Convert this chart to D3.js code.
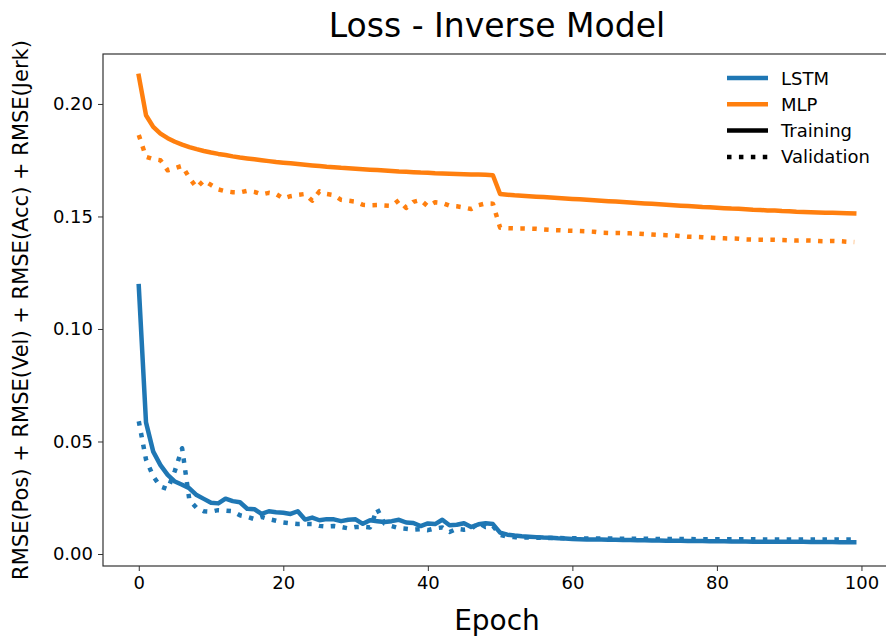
<!DOCTYPE html>
<html><head><meta charset="utf-8">
<script src="https://cdn.jsdelivr.net/npm/d3@7"></script>
<style>
html,body{margin:0;padding:0;background:#fff;}
svg{display:block;font-family:"DejaVu Sans",sans-serif;}
</style></head>
<body><svg id="chart" width="886" height="639"></svg>
<script>
const epochs = d3.range(0, 100);
const xTicks = [0, 20, 40, 60, 80, 100];
const yTicks = [0.00, 0.05, 0.10, 0.15, 0.20];
const seriesNames = ["LSTM", "MLP"];
const styleNames = ["Training", "Validation"];

const lstmTrain = [0.1190,0.0585,0.0455,0.0395,0.0352,0.0322,0.0308,0.0292,0.0262,0.0245,
0.0228,0.0225,0.0246,0.0235,0.0230,0.0201,0.0199,0.0178,0.0190,0.0186,
0.0183,0.0178,0.0190,0.0153,0.0162,0.0150,0.0155,0.0154,0.0146,0.0152,
0.0154,0.0134,0.0150,0.0146,0.0142,0.0146,0.0152,0.0140,0.0138,0.0124,
0.0136,0.0133,0.0152,0.0128,0.0130,0.0137,0.0120,0.0132,0.0137,0.0133,
0.0095,0.0086,0.0082,0.0079,0.0077,0.0075,0.0073,0.0072,0.0070,0.0069,
0.0067,0.0066,0.0065,0.0065,0.0064,0.0063,0.0063,0.0062,0.0062,0.0061,
0.0061,0.0060,0.0060,0.0059,0.0059,0.0059,0.0058,0.0058,0.0058,0.0057,
0.0057,0.0057,0.0056,0.0056,0.0056,0.0055,0.0055,0.0055,0.0055,0.0054,
0.0054,0.0054,0.0054,0.0053,0.0053,0.0053,0.0053,0.0052,0.0052,0.0052];

const lstmVal = [0.0590,0.0420,0.0345,0.0300,0.0288,0.0370,0.0470,0.0240,0.0205,0.0190,
0.0188,0.0195,0.0193,0.0190,0.0172,0.0165,0.0155,0.0165,0.0155,0.0148,
0.0140,0.0136,0.0133,0.0134,0.0133,0.0125,0.0122,0.0124,0.0120,0.0114,
0.0120,0.0121,0.0118,0.0200,0.0135,0.0124,0.0115,0.0112,0.0108,0.0110,
0.0106,0.0114,0.0118,0.0098,0.0112,0.0108,0.0112,0.0138,0.0120,0.0125,
0.0085,0.0078,0.0075,0.0074,0.0073,0.0072,0.0072,0.0071,0.0071,0.0070,
0.0070,0.0070,0.0069,0.0069,0.0069,0.0069,0.0068,0.0068,0.0068,0.0068,
0.0068,0.0067,0.0067,0.0067,0.0067,0.0067,0.0067,0.0066,0.0066,0.0066,
0.0066,0.0066,0.0066,0.0066,0.0066,0.0066,0.0065,0.0065,0.0065,0.0065,
0.0065,0.0065,0.0065,0.0065,0.0065,0.0065,0.0065,0.0065,0.0065,0.0065];

const mlpTrain = [0.2125,0.1950,0.1898,0.1868,0.1848,0.1832,0.1819,0.1808,0.1799,0.1791,
0.1784,0.1778,0.1773,0.1767,0.1762,0.1758,0.1754,0.1750,0.1746,0.1742,
0.1739,0.1736,0.1733,0.1730,0.1727,0.1724,0.1721,0.1719,0.1716,0.1714,
0.1712,0.1710,0.1708,0.1706,0.1704,0.1702,0.1700,0.1699,0.1697,0.1695,
0.1694,0.1692,0.1691,0.1690,0.1689,0.1688,0.1687,0.1686,0.1685,0.1683,
0.1600,0.1597,0.1594,0.1592,0.1590,0.1588,0.1586,0.1584,0.1582,0.1580,
0.1578,0.1576,0.1574,0.1572,0.1570,0.1568,0.1566,0.1564,0.1562,0.1560,
0.1558,0.1556,0.1554,0.1552,0.1550,0.1548,0.1546,0.1544,0.1542,0.1541,
0.1539,0.1537,0.1535,0.1534,0.1532,0.1530,0.1529,0.1527,0.1526,0.1524,
0.1523,0.1521,0.1520,0.1519,0.1518,0.1517,0.1516,0.1515,0.1514,0.1513];

const mlpVal = [0.1862,0.1765,0.1755,0.1750,0.1705,0.1715,0.1725,0.1672,0.1628,0.1660,
0.1640,0.1620,0.1612,0.1608,0.1607,0.1614,0.1609,0.1598,0.1605,0.1600,
0.1580,0.1590,0.1596,0.1600,0.1570,0.1612,0.1600,0.1595,0.1574,0.1570,
0.1566,0.1552,0.1550,0.1551,0.1549,0.1547,0.1572,0.1538,0.1565,0.1573,
0.1545,0.1563,0.1560,0.1548,0.1545,0.1540,0.1533,0.1550,0.1558,0.1557,
0.1450,0.1448,0.1447,0.1447,0.1446,0.1445,0.1442,0.1440,0.1439,0.1437,
0.1436,0.1435,0.1434,0.1432,0.1428,0.1427,0.1427,0.1426,0.1425,0.1424,
0.1422,0.1420,0.1418,0.1417,0.1416,0.1413,0.1410,0.1409,0.1408,0.1406,
0.1404,0.1403,0.1402,0.1401,0.1398,0.1397,0.1397,0.1396,0.1396,0.1395,
0.1394,0.1393,0.1394,0.1393,0.1391,0.1390,0.1391,0.1390,0.1388,0.1387];

const colors = {LSTM: "#1f77b4", MLP: "#ff7f0e"};
const series = [
  {name: "LSTM", kind: "Training", values: lstmTrain},
  {name: "LSTM", kind: "Validation", values: lstmVal},
  {name: "MLP", kind: "Training", values: mlpTrain},
  {name: "MLP", kind: "Validation", values: mlpVal}
];

const svg = d3.select("#chart");
const L = 103, T = 54, B = 566, R = 890;
const x = d3.scaleLinear().domain([-4.95, 103.95]).range([L, R]);
const y = d3.scaleLinear().domain([-0.00533, 0.2222]).range([B, T]);

const LW = 4.5;
const dash = (LW*1) + " " + (LW*1.65);

svg.append("defs").append("clipPath").attr("id","clip")
  .append("rect").attr("x",L).attr("y",T).attr("width",R-L).attr("height",B-T);

const line = d3.line().x((d,i)=>x(epochs[i])).y(d=>y(d));
const g = svg.append("g").attr("clip-path","url(#clip)");
series.forEach(s => {
  g.append("path").datum(s.values)
    .attr("d", line)
    .attr("fill","none")
    .attr("stroke", colors[s.name])
    .attr("stroke-width", LW)
    .attr("stroke-linejoin","round")
    .attr("stroke-linecap", s.kind==="Training" ? "square" : "butt")
    .attr("stroke-dasharray", s.kind==="Training" ? null : dash);
});

const xAxis = d3.axisBottom(x).tickValues(xTicks).tickSize(5).tickPadding(5).tickFormat(d3.format("d"));
const yAxis = d3.axisLeft(y).tickValues(yTicks).tickSize(5).tickPadding(5).tickFormat(d3.format(".2f"));
const gx = svg.append("g").attr("transform",`translate(0,${B})`).call(xAxis);
const gy = svg.append("g").attr("transform",`translate(${L},0)`).call(yAxis);
[gx, gy].forEach(a => {
  a.select(".domain").remove();
  a.selectAll("line").attr("stroke","#333").attr("stroke-width",1);
  a.selectAll("text").attr("font-size","18px").attr("fill","#000").attr("font-family","DejaVu Sans");
});
svg.append("rect").attr("x",L).attr("y",T).attr("width",R-L).attr("height",B-T)
  .attr("fill","none").attr("stroke","#333").attr("stroke-width",1.2);

svg.append("text").attr("x",497).attr("y",37).attr("text-anchor","middle")
  .attr("font-size","33px").attr("fill","#000").text("Loss - Inverse Model");
svg.append("text").attr("x",497).attr("y",630).attr("text-anchor","middle")
  .attr("font-size","28px").attr("fill","#000").text("Epoch");
svg.append("text").attr("transform","translate(28,310) rotate(-90)").attr("text-anchor","middle")
  .attr("font-size","21px").attr("fill","#000").text("RMSE(Pos) + RMSE(Vel) + RMSE(Acc) + RMSE(Jerk)");

const legendItems = [
  {label: seriesNames[0], color: colors.LSTM, dashed: false},
  {label: seriesNames[1], color: colors.MLP, dashed: false},
  {label: styleNames[0], color: "#000", dashed: false},
  {label: styleNames[1], color: "#000", dashed: true}
];
const lg = svg.append("g");
legendItems.forEach((d, i) => {
  const yy = 78 + i*26.3;
  lg.append("line").attr("x1",727).attr("x2",768).attr("y1",yy).attr("y2",yy)
    .attr("stroke", d.color).attr("stroke-width", LW)
    .attr("stroke-dasharray", d.dashed ? dash : null);
  lg.append("text").attr("x",781).attr("y",yy+6.5).attr("font-size","18px").attr("fill","#000").text(d.label);
});
</script></body></html>
